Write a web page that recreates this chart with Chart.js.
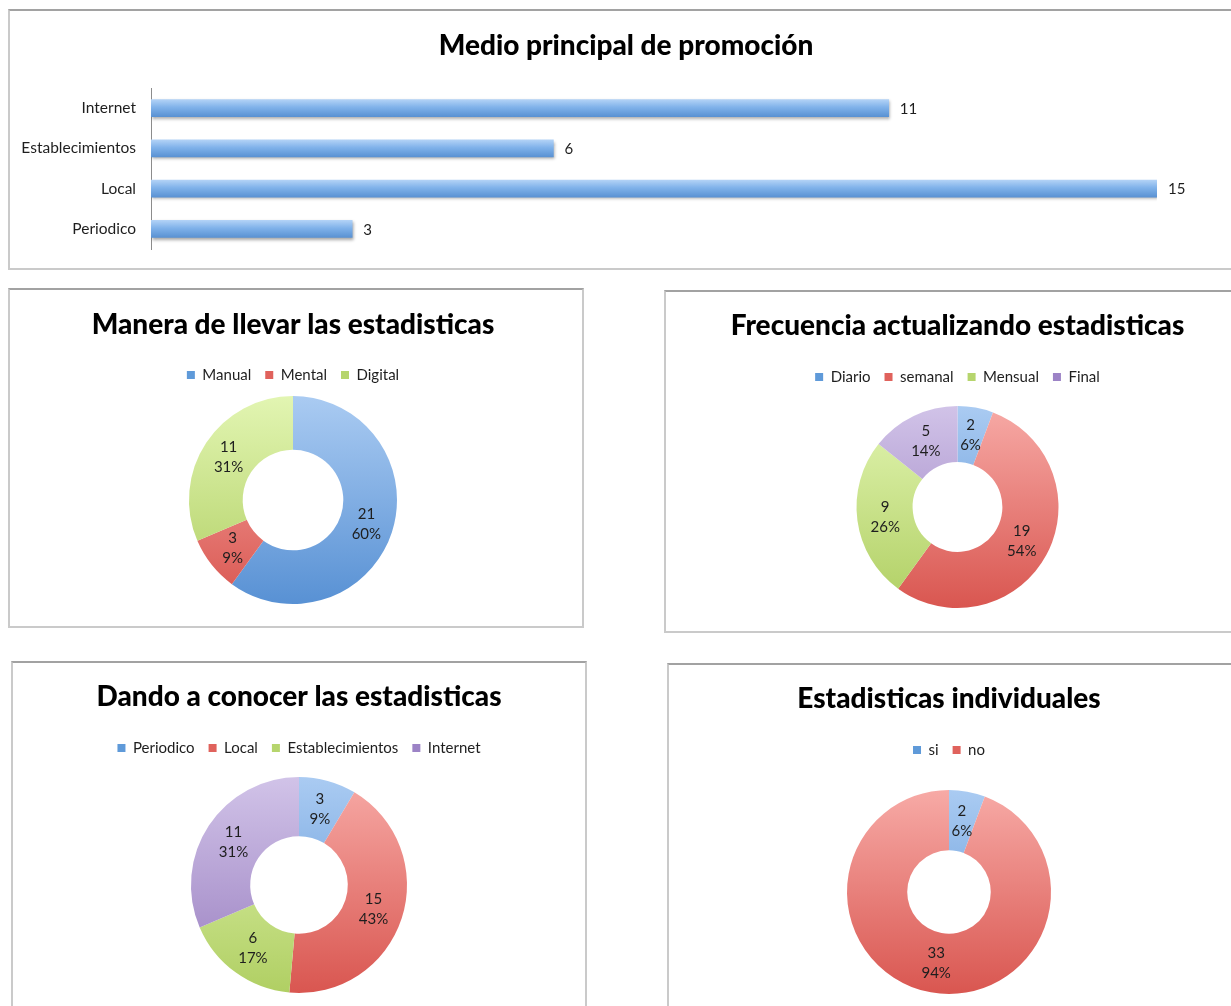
<!DOCTYPE html>
<html><head><meta charset="utf-8">
<script src="https://cdn.jsdelivr.net/npm/chart.js@4.4.0/dist/chart.umd.min.js"></script>
<style>
html,body{margin:0;padding:0;background:#fff;width:1231px;height:1006px;overflow:hidden;position:relative;}
.panel{position:absolute;box-sizing:border-box;border:2px solid #cacaca;border-top-color:#a2a2a2;background:#fff;}
.wrap{position:absolute;}
</style></head><body>
<div class="panel" style="left:8px;top:9px;width:1240px;height:261px"></div>
<div class="panel" style="left:8px;top:288px;width:576px;height:340px"></div>
<div class="panel" style="left:664px;top:290px;width:580px;height:343px"></div>
<div class="panel" style="left:11px;top:661px;width:576px;height:380px"></div>
<div class="panel" style="left:667px;top:663px;width:580px;height:380px"></div>

<div class="wrap" style="left:10px;top:11px"><canvas id="c1" width="1221" height="256"></canvas></div>
<div class="wrap" style="left:10px;top:290px"><canvas id="c2" width="572" height="336"></canvas></div>
<div class="wrap" style="left:666px;top:292px"><canvas id="c3" width="565" height="339"></canvas></div>
<div class="wrap" style="left:13px;top:663px"><canvas id="c4" width="572" height="360"></canvas></div>
<div class="wrap" style="left:669px;top:665px"><canvas id="c5" width="562" height="360"></canvas></div>

<script>
// ---------- DATA ----------
const promoTitle = 'Medio principal de promoción';
const promoCategories = ['Internet', 'Establecimientos', 'Local', 'Periodico'];
const promoValues = [11, 6, 15, 3];

const maneraTitle = 'Manera de llevar las estadisticas';
const maneraLabels = ['Manual', 'Mental', 'Digital'];
const maneraValues = [21, 3, 11];

const frecTitle = 'Frecuencia actualizando estadisticas';
const frecLabels = ['Diario', 'semanal', 'Mensual', 'Final'];
const frecValues = [2, 19, 9, 5];

const dandoTitle = 'Dando a conocer las estadisticas';
const dandoLabels = ['Periodico', 'Local', 'Establecimientos', 'Internet'];
const dandoValues = [3, 15, 6, 11];

const indivTitle = 'Estadisticas individuales';
const indivLabels = ['si', 'no'];
const indivValues = [2, 33];

// ---------- STYLE ----------
const FONT = 'Lato';
const TITLE_SIZE = 28;
const TITLE_WEIGHT = 900;
const TEXT = '#1e1e1e';
const PALETTE = {
  blue:   {solid: '#5f9ad9', top: '#aacbf2', bottom: '#5891d4'},
  red:    {solid: '#e0625c', top: '#f7aaa6', bottom: '#d95650'},
  green:  {solid: '#b6d56d', top: '#e2f5b2', bottom: '#b0cf63'},
  purple: {solid: '#9c83c6', top: '#d1c3e8', bottom: '#987dbf'}
};
Chart.defaults.font.family = FONT;
Chart.defaults.color = TEXT;
Chart.defaults.animation = false;

// ---------- BAR CHART ----------
(function () {
  const H = 256, titleCenter = 35, areaTop = 77, areaBottom = 238;
  const lh = TITLE_SIZE * 1.2;
  const padTop = titleCenter - lh / 2;
  const padBottom = areaTop - padTop - lh;
  const noAxisPadding = (axis, w) => {
    axis.width = w;
    axis.paddingTop = 0; axis.paddingBottom = 0;
  };
  const valueLabels = {
    id: 'valueLabels',
    afterDatasetsDraw(chart) {
      const ctx = chart.ctx;
      const meta = chart.getDatasetMeta(0);
      ctx.save();
      ctx.font = '15px ' + FONT;
      ctx.fillStyle = TEXT;
      ctx.textBaseline = 'middle';
      ctx.textAlign = 'left';
      meta.data.forEach((bar, i) => {
        ctx.fillText(String(chart.data.datasets[0].data[i]), bar.x + 11, bar.y + 1);
      });
      ctx.restore();
    }
  };
  const barShadow = {
    id: 'barShadow',
    beforeDatasetsDraw(chart) {
      const ctx = chart.ctx;
      ctx.save();
      ctx.shadowColor = 'rgba(0,0,0,0.35)';
      ctx.shadowBlur = 3;
      ctx.shadowOffsetX = 1;
      ctx.shadowOffsetY = 2;
    },
    afterDatasetsDraw(chart) { chart.ctx.restore(); }
  };
  new Chart(document.getElementById('c1'), {
    type: 'bar',
    data: {
      labels: promoCategories,
      datasets: [{
        data: promoValues,
        barThickness: 17,
        borderWidth: 0,
        backgroundColor: (c) => {
          const chart = c.chart;
          const ys = chart.scales && chart.scales.y;
          if (!chart.chartArea || !ys || c.dataIndex === undefined) return PALETTE.blue.solid;
          const y = ys.getPixelForValue(c.dataIndex);
          const g = chart.ctx.createLinearGradient(0, y - 8.5, 0, y + 8.5);
          g.addColorStop(0, '#b2d2f6');
          g.addColorStop(0.45, '#80b2ea');
          g.addColorStop(1, '#5a92d3');
          return g;
        }
      }]
    },
    options: {
      responsive: false,
      indexAxis: 'y',
      layout: {padding: {left: 11, right: 0, top: 0, bottom: H - areaBottom}},
      plugins: {
        legend: {display: false},
        tooltip: {enabled: false},
        title: {
          display: true, text: promoTitle, color: '#000',
          font: {family: FONT, size: TITLE_SIZE, weight: TITLE_WEIGHT},
          padding: {top: padTop, bottom: padBottom}
        }
      },
      scales: {
        x: {display: false, min: 0, max: 15},
        y: {
          afterFit: (axis) => noAxisPadding(axis, 130),
          grid: {display: false, drawTicks: false},
          border: {display: true, color: '#8c8c8c', width: 1},
          ticks: {padding: 15, color: TEXT, font: {family: FONT, size: 15.5}}
        },
        yRight: {
          type: 'category', position: 'right', axis: 'y',
          afterFit: (axis) => noAxisPadding(axis, 74),
          grid: {display: false, drawTicks: false},
          border: {display: false},
          ticks: {display: false}
        }
      }
    },
    plugins: [barShadow, valueLabels]
  });
})();

// ---------- DOUGHNUTS ----------
function makeDonut(id, title, labels, values, colors, geo) {
  const lh = TITLE_SIZE * 1.2;
  const legendPad = 14;
  const legendFont = 15;
  const legendTop = geo.legendY - legendFont / 2 - legendPad;
  const titleTop = geo.titleY - lh / 2;
  const titleBottom = legendTop - titleTop - lh;
  const areaTop = legendTop + legendFont + legendPad + 10;
  const areaBottom = 2 * geo.cy - areaTop;
  const canvas = document.getElementById(id);
  const H = canvas.height;
  const sliceLabels = {
    id: 'sliceLabels',
    afterDatasetsDraw(chart) {
      const ctx = chart.ctx;
      const data = chart.data.datasets[0].data;
      const total = data.reduce((a, b) => a + b, 0);
      const meta = chart.getDatasetMeta(0);
      ctx.save();
      ctx.font = '15px ' + FONT;
      ctx.fillStyle = TEXT;
      ctx.textAlign = 'center';
      ctx.textBaseline = 'middle';
      meta.data.forEach((arc, i) => {
        const p = arc.tooltipPosition();
        ctx.fillText(String(data[i]), p.x, p.y - 10);
        ctx.fillText(Math.round(data[i] / total * 100) + '%', p.x, p.y + 10);
      });
      ctx.restore();
    }
  };
  new Chart(canvas, {
    type: 'doughnut',
    data: {
      labels: labels,
      datasets: [{
        data: values,
        borderWidth: 0,
        radius: geo.radius,
        cutout: geo.cutout,
        backgroundColor: (c) => {
          const chart = c.chart;
          const a = chart.chartArea;
          const col = PALETTE[colors[c.dataIndex]];
          if (!a || !col) return col ? col.solid : '#ccc';
          const cy = (a.top + a.bottom) / 2;
          const g = chart.ctx.createLinearGradient(0, cy - geo.radius, 0, cy + geo.radius);
          g.addColorStop(0, col.top);
          g.addColorStop(1, col.bottom);
          return g;
        }
      }]
    },
    options: {
      responsive: false,
      layout: {padding: {left: geo.padLeft || 0, right: geo.padRight || 0, top: 0, bottom: H - areaBottom}},
      plugins: {
        tooltip: {enabled: false},
        title: {
          display: true, text: title, color: '#000',
          font: {family: FONT, size: TITLE_SIZE, weight: TITLE_WEIGHT},
          padding: {top: titleTop, bottom: titleBottom}
        },
        legend: {
          display: true, position: 'top',
          labels: {
            boxWidth: 8, boxHeight: 8, padding: legendPad, color: TEXT,
            font: {family: FONT, size: legendFont},
            generateLabels: (chart) => {
              const items = Chart.overrides.doughnut.plugins.legend.labels.generateLabels(chart);
              items.forEach((it, i) => {
                const s = PALETTE[colors[i]].solid;
                it.fillStyle = s; it.strokeStyle = s; it.lineWidth = 0;
              });
              return items;
            }
          }
        }
      }
    },
    plugins: [sliceLabels]
  });
}

makeDonut('c2', maneraTitle, maneraLabels, maneraValues, ['blue', 'red', 'green'],
  {titleY: 35, legendY: 85, cy: 210, radius: 104, cutout: 52, padLeft: 0, padRight: 6});
makeDonut('c3', frecTitle, frecLabels, frecValues, ['blue', 'red', 'green', 'purple'],
  {titleY: 34, legendY: 85, cy: 215, radius: 101, cutout: 50, padLeft: 18, padRight: 0});
makeDonut('c4', dandoTitle, dandoLabels, dandoValues, ['blue', 'red', 'green', 'purple'],
  {titleY: 34, legendY: 85, cy: 222, radius: 108, cutout: 54, padLeft: 0, padRight: 0});
makeDonut('c5', indivTitle, indivLabels, indivValues, ['blue', 'red'],
  {titleY: 34, legendY: 85, cy: 227, radius: 102, cutout: 51, padLeft: 0, padRight: 2});
</script>
</body></html>
